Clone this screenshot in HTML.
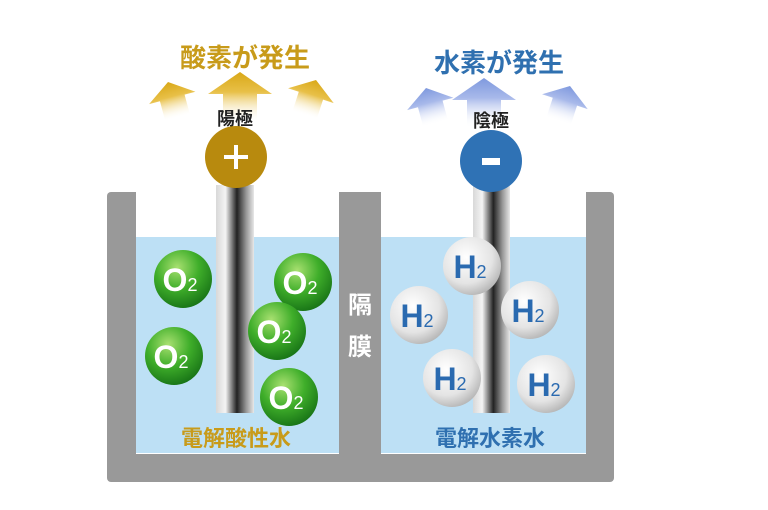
<!DOCTYPE html>
<html><head><meta charset="utf-8"><style>
html,body{margin:0;padding:0;background:#fff;}
svg{display:block;}
text{font-family:"Liberation Sans","Noto Sans CJK JP",sans-serif;font-weight:bold;}
</style></head><body>
<svg width="768" height="510" viewBox="0 0 768 510" xmlns="http://www.w3.org/2000/svg">
<defs>
<linearGradient id="ga" x1="0" y1="0" x2="0" y2="1"><stop offset="0" stop-color="#d9a818"/><stop offset="0.4" stop-color="#e8c048"/><stop offset="1" stop-color="#fff" stop-opacity="0"/></linearGradient>
<linearGradient id="ba" x1="0" y1="0" x2="0" y2="1"><stop offset="0" stop-color="#7f99de"/><stop offset="0.4" stop-color="#a8b9ea"/><stop offset="1" stop-color="#fff" stop-opacity="0"/></linearGradient>
<linearGradient id="rod" x1="0" y1="0" x2="1" y2="0"><stop offset="0" stop-color="#d8d8d8"/><stop offset="0.25" stop-color="#f4f4f4"/><stop offset="0.55" stop-color="#222"/><stop offset="0.8" stop-color="#999"/><stop offset="1" stop-color="#e8e8e8"/></linearGradient>
<radialGradient id="og" cx="0.4" cy="0.3" r="0.75"><stop offset="0" stop-color="#a8e070"/><stop offset="0.5" stop-color="#3fae2a"/><stop offset="1" stop-color="#157015"/></radialGradient>
<radialGradient id="hg" cx="0.4" cy="0.35" r="0.75"><stop offset="0" stop-color="#ffffff"/><stop offset="0.6" stop-color="#e4e4e4"/><stop offset="1" stop-color="#a8a8a8"/></radialGradient>
<path id="arr" d="M0,0 L32,22 L17,22 L17,50 L-17,50 L-17,22 L-32,22 Z"/>
</defs>
<rect x="107" y="192" width="507" height="290" rx="4" fill="#999"/>
<rect x="136" y="192" width="203" height="262" fill="#fff"/>
<rect x="381" y="192" width="205" height="262" fill="#fff"/>
<rect x="136" y="237" width="203" height="216" fill="#bde0f5"/>
<rect x="381" y="237" width="205" height="216" fill="#bde0f5"/>
<use href="#arr" fill="url(#ga)" transform="translate(240,72)"/>
<use href="#arr" fill="url(#ga)" transform="translate(168,82) rotate(-15) scale(0.75)"/>
<use href="#arr" fill="url(#ga)" transform="translate(316,80) rotate(18) scale(0.75)"/>
<use href="#arr" fill="url(#ba)" transform="translate(484,78)"/>
<use href="#arr" fill="url(#ba)" transform="translate(426,88) rotate(-15) scale(0.75)"/>
<use href="#arr" fill="url(#ba)" transform="translate(570,86) rotate(18) scale(0.75)"/>
<text x="245" y="67" font-size="26" fill="#c89b1a" text-anchor="middle">酸素が発生</text>
<text x="499" y="72" font-size="26" fill="#2f70b0" text-anchor="middle">水素が発生</text>
<text x="235" y="125" font-size="18" fill="#222" text-anchor="middle">陽極</text>
<text x="491" y="127" font-size="18" fill="#222" text-anchor="middle">陰極</text>
<rect x="216" y="185" width="38" height="228" fill="url(#rod)"/>
<rect x="473" y="185" width="37" height="228" fill="url(#rod)"/>
<circle cx="236" cy="157" r="31" fill="#b88a0e"/>
<rect x="224" y="155" width="24" height="4" fill="#fff"/><rect x="234" y="145" width="4" height="24" fill="#fff"/>
<circle cx="491" cy="161" r="31" fill="#2f72b5"/>
<rect x="482" y="158" width="18" height="7" fill="#fff"/>
<g font-size="32" fill="#fff">
<g transform="translate(183,279)"><circle r="29" fill="url(#og)"/><text x="-3" y="12" text-anchor="middle">O<tspan font-size="18" font-weight="normal">2</tspan></text></g>
<g transform="translate(303,282)"><circle r="29" fill="url(#og)"/><text x="-3" y="12" text-anchor="middle">O<tspan font-size="18" font-weight="normal">2</tspan></text></g>
<g transform="translate(277,331)"><circle r="29" fill="url(#og)"/><text x="-3" y="12" text-anchor="middle">O<tspan font-size="18" font-weight="normal">2</tspan></text></g>
<g transform="translate(174,356)"><circle r="29" fill="url(#og)"/><text x="-3" y="12" text-anchor="middle">O<tspan font-size="18" font-weight="normal">2</tspan></text></g>
<g transform="translate(289,397)"><circle r="29" fill="url(#og)"/><text x="-3" y="12" text-anchor="middle">O<tspan font-size="18" font-weight="normal">2</tspan></text></g>
</g>
<g font-size="32" fill="#2a6ab0">
<g transform="translate(472,266)"><circle r="29" fill="url(#hg)"/><text x="-2" y="12" text-anchor="middle">H<tspan font-size="18" font-weight="normal">2</tspan></text></g>
<g transform="translate(419,315)"><circle r="29" fill="url(#hg)"/><text x="-2" y="12" text-anchor="middle">H<tspan font-size="18" font-weight="normal">2</tspan></text></g>
<g transform="translate(530,310)"><circle r="29" fill="url(#hg)"/><text x="-2" y="12" text-anchor="middle">H<tspan font-size="18" font-weight="normal">2</tspan></text></g>
<g transform="translate(452,378)"><circle r="29" fill="url(#hg)"/><text x="-2" y="12" text-anchor="middle">H<tspan font-size="18" font-weight="normal">2</tspan></text></g>
<g transform="translate(546,384)"><circle r="29" fill="url(#hg)"/><text x="-2" y="12" text-anchor="middle">H<tspan font-size="18" font-weight="normal">2</tspan></text></g>
</g>
<text x="236" y="446" font-size="22" fill="#c89b1a" text-anchor="middle">電解酸性水</text>
<text x="490" y="446" font-size="22" fill="#2f70b0" text-anchor="middle">電解水素水</text>
<text x="360" y="313" font-size="24" fill="#fff" text-anchor="middle">隔</text>
<text x="360" y="355" font-size="24" fill="#fff" text-anchor="middle">膜</text>
</svg>
</body></html>
